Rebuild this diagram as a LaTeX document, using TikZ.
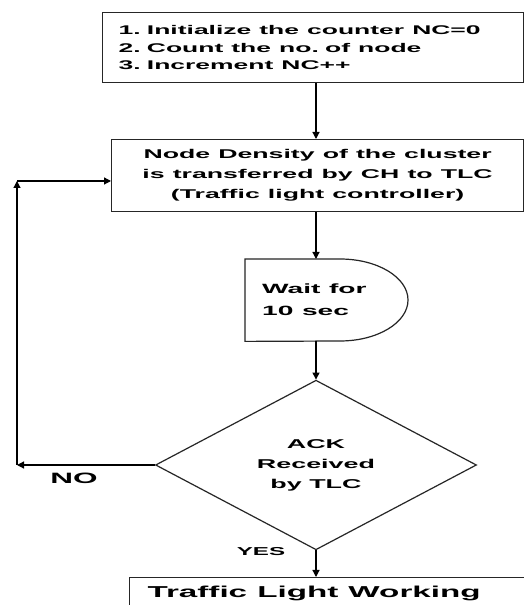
\documentclass[tikz,border=0pt]{standalone}
\usepackage{fontspec}
\newfontfamily\wb[FakeStretch=2.1]{Liberation Sans}
\newcommand\wsp{\spaceskip=0.64em\relax}
\usetikzlibrary{arrows.meta,shapes.geometric}
\begin{document}
\begin{tikzpicture}[x=1pt,y=1pt,
  every node/.style={font=\wb\bfseries},
  box/.style={draw=black!85,line width=1.2pt,rectangle,inner ysep=0pt},
  arr/.style={draw=black,line width=1.2pt,-{Triangle[length=7pt,width=7pt]}},
  lbl/.style={inner sep=0pt}]
\useasboundingbox (0,0) rectangle (524,605);
\clip (0,0) rectangle (524,605);
\fill[white] (0,0) rectangle (524,605);
% top box
\node[box,anchor=north west,minimum width=421pt,minimum height=70pt,
  text width=389pt,inner xsep=16pt,align=left,
  font=\wb\bfseries\fontsize{12.6}{17.5}\selectfont] (top) at (102,593)
  {\wsp 1. Initialize the counter NC=0\\2. Count the no. of node\\3. Increment NC++};
% box 2
\node[box,anchor=north west,minimum width=412pt,minimum height=72pt,
  text width=400pt,inner xsep=6pt,align=center,
  font=\wb\bfseries\fontsize{12.7}{20}\selectfont] (box2) at (111,466)
  {\wsp Node Density of the cluster\\is transferred by CH to TLC\\(Traffic light controller)};
% delay
\node[anchor=north west,minimum width=163pt,minimum height=82pt,
  text width=140pt,inner xsep=17pt,inner ysep=0pt,align=left,
  font=\wb\bfseries\fontsize{13.4}{22}\selectfont] (wait) at (245,346)
  {\wsp Wait for\\10 sec};
\draw[draw=black!85,line width=1.2pt] (wait.north west) -- ++(95pt,0pt)
  arc[start angle=90,end angle=-90,x radius=68pt,y radius=41pt]
  -- (wait.south west) -- cycle;
% diamond
\node[diamond,draw=black!85,line width=1.2pt,minimum width=321pt,minimum height=144pt,
  inner sep=0pt,align=center,
  font=\wb\bfseries\fontsize{12.8}{20}\selectfont] (dia) at (316,140)
  {ACK\\Received\\by TLC};
% last box
\node[box,anchor=north west,minimum width=420pt,minimum height=40pt,
  text width=384pt,inner xsep=18pt,align=left,
  font=\wb\bfseries\fontsize{15.8}{18}\selectfont] (last) at (129,28)
  {\wsp\raisebox{11pt}{Traffic Light Working}};
% labels
\node[lbl,font=\wb\bfseries\fontsize{15}{17}\selectfont] (no) at (74,127) {NO};
\node[lbl,font=\wb\bfseries\fontsize{11.5}{14}\selectfont] (yes) at (261,53) {YES};
% connectors
\coordinate (col) at (316,0);
\coordinate (c1) at (17,140);
\coordinate (c2) at (17,424);
\draw[arr] (top.south -| col) -- (box2.north -| col);
\draw[arr] (box2.south -| col) -- (wait.north -| col);
\draw[arr] (wait.south -| col) -- (dia.north);
\draw[arr] (dia.south) -- (last.north -| dia.south);
\draw[arr] (dia.west) -- (c1);
\draw[arr] (c1) -- (c2);
\draw[arr] (c2) -- (box2.west |- c2);
\end{tikzpicture}
\end{document}
